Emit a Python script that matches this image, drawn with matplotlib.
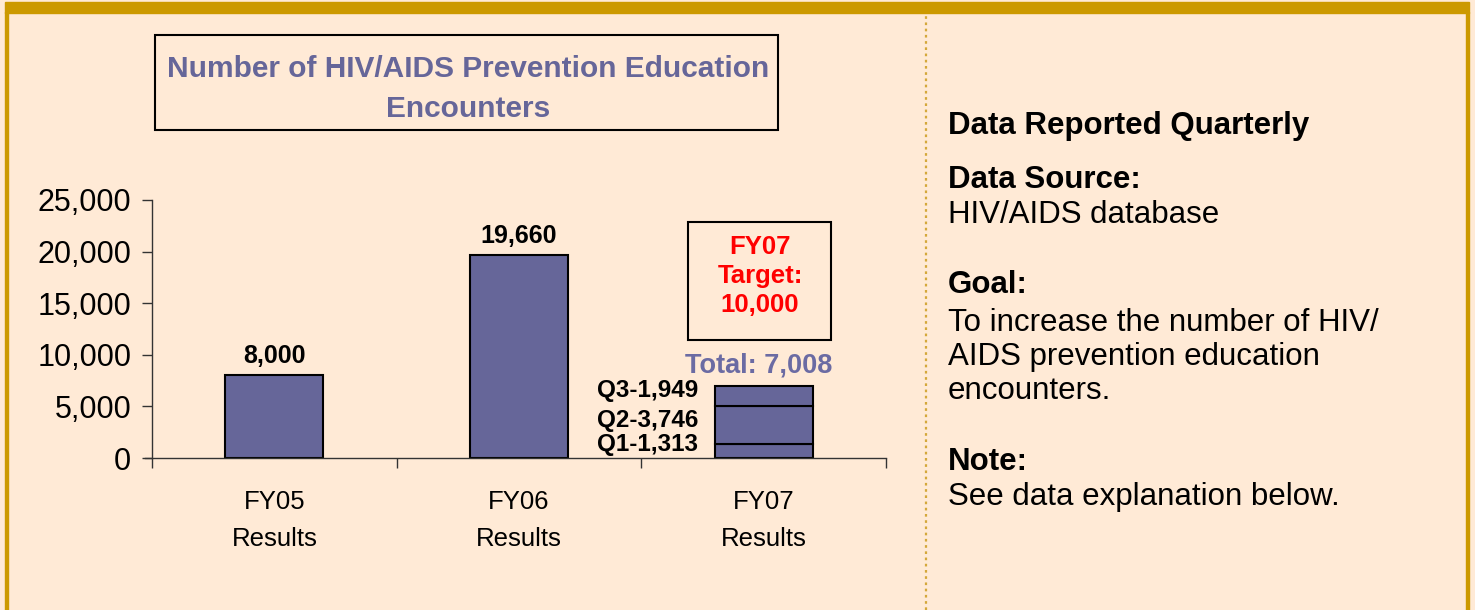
import matplotlib.pyplot as plt
from matplotlib.patches import Rectangle
from matplotlib.lines import Line2D

categories = ['FY05\nResults', 'FY06\nResults', 'FY07\nResults']
results = [8000, 19660]
q_labels = ['Q1-1,313', 'Q2-3,746', 'Q3-1,949']
q_values = [1313, 3746, 1949]
target_text = 'FY07\nTarget:\n10,000'
yticks = [0, 5000, 10000, 15000, 20000, 25000]

W, H = 1475, 610
bg = '#FFEAD6'
gold = '#CC9900'
bar_col = '#666699'
plt.rcParams['font.family'] = ['Liberation Sans', 'DejaVu Sans']

fig = plt.figure(figsize=(W / 100, H / 100), dpi=100)
fig.set_facecolor(bg)

def fx(x):
    return x / W

def fy(y):
    return 1 - y / H

# frame
fig.patches.append(Rectangle((fx(5), fy(12.7)), fx(1464), 10.7 / H, transform=fig.transFigure,
                             color=gold, zorder=0))
fig.patches.append(Rectangle((fx(5), 0), fx(3), fy(12), transform=fig.transFigure, color=gold, zorder=0))
fig.patches.append(Rectangle((fx(1466), 0), fx(3), fy(12), transform=fig.transFigure, color=gold, zorder=0))
fig.lines.append(Line2D([fx(925.5), fx(925.5)], [0, fy(12.7)], transform=fig.transFigure,
                        color='#D4A83A', lw=1.6, ls=(0, (1.2, 1.6))))

ax = fig.add_axes([fx(152), fy(458), fx(886) - fx(152), fy(200) - fy(458)])
ax.set_facecolor('none')
x = list(range(len(categories)))

ax.bar(x[:2], results, width=0.4, color=bar_col, edgecolor='black', linewidth=1.5)
bottom = 0
for v in q_values:
    ax.bar(x[2], v, bottom=bottom, width=0.4, color=bar_col, edgecolor='black', linewidth=1.5)
    bottom += v
total = bottom

for xi, v in zip(x[:2], results):
    ax.annotate(f'{v:,}', (xi, v), xytext=(0, 5), textcoords='offset points', ha='center', va='bottom',
                fontsize=18, fontweight='bold')
ax.annotate(f'Total: {total:,}', (x[2] - 0.02, total), xytext=(0, 5), textcoords='offset points',
            ha='center', va='bottom', fontsize=19.5, fontweight='bold', color='#6B6BA3')

label_y = [445, 421, 391]
for lab, ly in zip(q_labels, label_y):
    fig.text(fx(698), fy(ly), lab, ha='right', va='center', fontsize=17.5, fontweight='bold')

ax.set_xlim(-0.5, 2.5)
ax.set_ylim(0, 25000)
ax.set_yticks(yticks)
ax.set_yticklabels([f'{t:,}' for t in yticks])
ax.set_xticks(x)
ax.set_xticklabels(categories, linespacing=1.7)
ax.set_xticks([-0.5, 0.5, 1.5, 2.5], minor=True)
ax.tick_params(axis='x', which='major', length=0, pad=23, labelsize=18.5)
ax.tick_params(axis='x', which='minor', length=7, width=1, color='#333333', direction='out')
ax.tick_params(axis='y', length=7, width=1, color='#333333', pad=8, labelsize=22)
for s in ['top', 'right']:
    ax.spines[s].set_visible(False)
for s in ['left', 'bottom']:
    ax.spines[s].set_color('#333333')
    ax.spines[s].set_linewidth(1)
ax.spines['bottom'].set_bounds(-0.5 - 0.03, 2.5)

# title box
fig.patches.append(Rectangle((fx(155), fy(130)), fx(623), 95 / H, transform=fig.transFigure,
                             fill=False, edgecolor='black', lw=1.5))
fig.text(fx(468), fy(89), 'Number of HIV/AIDS Prevention Education\nEncounters', ha='center', va='center',
         fontsize=21.5, fontweight='bold', color='#666699', linespacing=1.55)

# target box
fig.patches.append(Rectangle((fx(688), fy(340)), fx(143), 118 / H, transform=fig.transFigure,
                             fill=False, edgecolor='black', lw=1.5))
fig.text(fx(760), fy(276), target_text, ha='center', va='center', fontsize=18.5, fontweight='bold',
         color='red', linespacing=1.25)

# right panel text
side = [
    (126, 'Data Reported Quarterly', 'bold'),
    (180, 'Data Source:', 'bold'),
    (215, 'HIV/AIDS database', 'normal'),
    (285, 'Goal:', 'bold'),
    (323, 'To increase the number of HIV/', 'normal'),
    (357, 'AIDS prevention education', 'normal'),
    (391, 'encounters.', 'normal'),
    (462, 'Note:', 'bold'),
    (497, 'See data explanation below.', 'normal'),
]
for yy, txt, wt in side:
    fig.text(fx(948), fy(yy), txt, ha='left', va='center', fontsize=22.5, fontweight=wt)

fig.savefig('out.png', dpi=100, facecolor=bg)
